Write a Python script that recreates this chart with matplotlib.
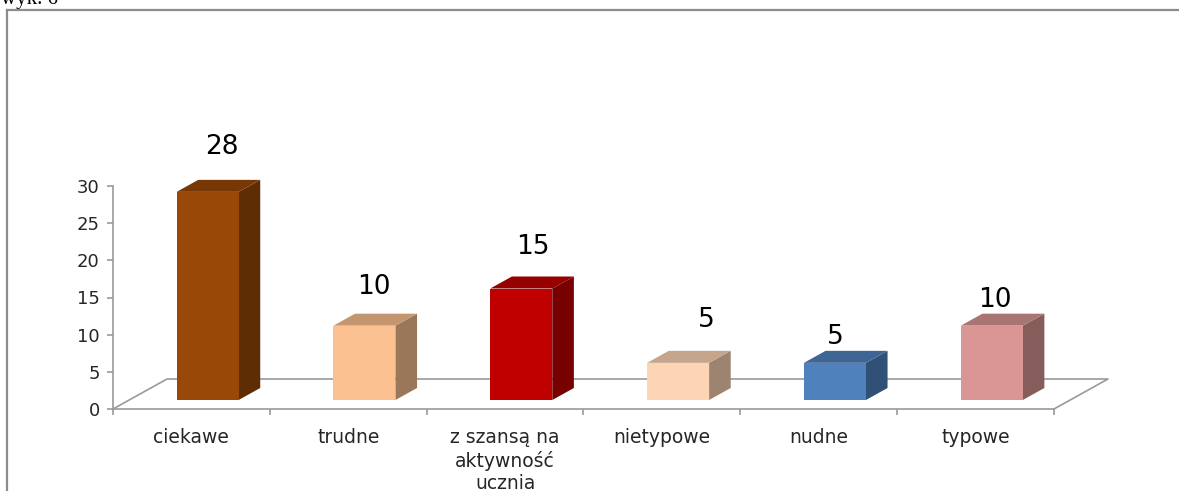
import numpy as np
import matplotlib
matplotlib.use("Agg")
import matplotlib.pyplot as plt
from matplotlib.patches import Polygon
from matplotlib.lines import Line2D

categories = ["ciekawe", "trudne", "z szansą na\naktywność\nucznia",
              "nietypowe", "nudne", "typowe"]
values = [28, 10, 15, 5, 5, 10]
bar_colors = ["#9A4807", "#FAC090", "#C00000", "#FCD5B5", "#4F81BD", "#D99694"]
yticks = [0, 5, 10, 15, 20, 25, 30]

# where each value label sits, in pixels from the back-top edge of its bar
label_nudge = [(14, 33), (9, 27), (12, 30), (28, 31), (0, 14), (3, 14)]

W, H = 1179, 491
fig = plt.figure(figsize=(W / 100, H / 100), dpi=100)
ax = fig.add_axes([113 / W, (H - 409) / H, 941 / W, 223 / H])
ax.set_xlim(-0.5, len(categories) - 0.5)
ax.set_ylim(0, 30)

px_x = 941 / len(categories)
px_y = 223 / 30
depth = np.array([54 / px_x, 30 / px_y])   # floor depth in data units
front = 0.3      # bar front face inside the floor
deep = 0.4       # bar depth
bw = 62 / px_x   # bar width

grey = "#9a9a9a"

# floor outline (front edge is the x axis spine)
n = len(categories)
fx = [-0.5, -0.5 + depth[0], n - 0.5 + depth[0], n - 0.5]
fy = [0, depth[1], depth[1], 0]
ax.add_line(Line2D(fx, fy, color=grey, lw=1.2, clip_on=False, zorder=1))


def shade(c, f):
    r, g, b = matplotlib.colors.to_rgb(c)
    return (r * f, g * f, b * f)


dx, dy = deep * depth
for i, (v, c) in enumerate(zip(values, bar_colors)):
    x0 = i - bw / 2 + front * depth[0]
    y0 = front * depth[1]
    x1, y1 = x0 + bw, y0 + v
    side = Polygon([(x1, y0), (x1 + dx, y0 + dy), (x1 + dx, y1 + dy), (x1, y1)],
                   closed=True, fc=shade(c, 0.62), ec="none", clip_on=False, zorder=3)
    top = Polygon([(x0, y1), (x1, y1), (x1 + dx, y1 + dy), (x0 + dx, y1 + dy)],
                  closed=True, fc=shade(c, 0.78), ec="none", clip_on=False, zorder=3)
    face = Polygon([(x0, y0), (x1, y0), (x1, y1), (x0, y1)],
                   closed=True, fc=c, ec="none", clip_on=False, zorder=4)
    for p in (side, top, face):
        ax.add_patch(p)
    ax.annotate(str(v), xy=((x0 + x1) / 2, y1 + dy), xytext=label_nudge[i],
                textcoords="offset pixels", ha="center", va="center",
                fontsize=19, color="black", annotation_clip=False)

for s in ["top", "right"]:
    ax.spines[s].set_visible(False)
for s in ["left", "bottom"]:
    ax.spines[s].set_color(grey)
    ax.spines[s].set_linewidth(1.2)

ax.set_yticks(yticks)
ax.tick_params(axis="y", length=4.5, width=1.2, color=grey, pad=5,
               labelsize=13, labelcolor="#262626")
ax.set_xticks(range(n), categories)
ax.tick_params(axis="x", which="major", length=0, pad=14,
               labelsize=13.5, labelcolor="#262626")
for t in ax.get_xticklabels():
    t.set_linespacing(1.2)
ax.set_xticks(np.arange(-0.5, n, 1), minor=True)
ax.tick_params(axis="x", which="minor", length=4, width=1.2, color=grey)
ax.patch.set_visible(False)

# page frame and caption
fig.add_artist(Line2D([7 / W, 7 / W], [0, 1 - 10 / H], transform=fig.transFigure,
                      color="#8c8c8c", lw=1.6))
fig.add_artist(Line2D([7 / W, 1], [1 - 10 / H, 1 - 10 / H], transform=fig.transFigure,
                      color="#8c8c8c", lw=1.6))
fig.text(1 / W, 1 - 4 / H, "wyk. 6", family="Liberation Serif", fontsize=15,
         va="baseline", ha="left", color="black")

fig.savefig("out.png", dpi=100)
